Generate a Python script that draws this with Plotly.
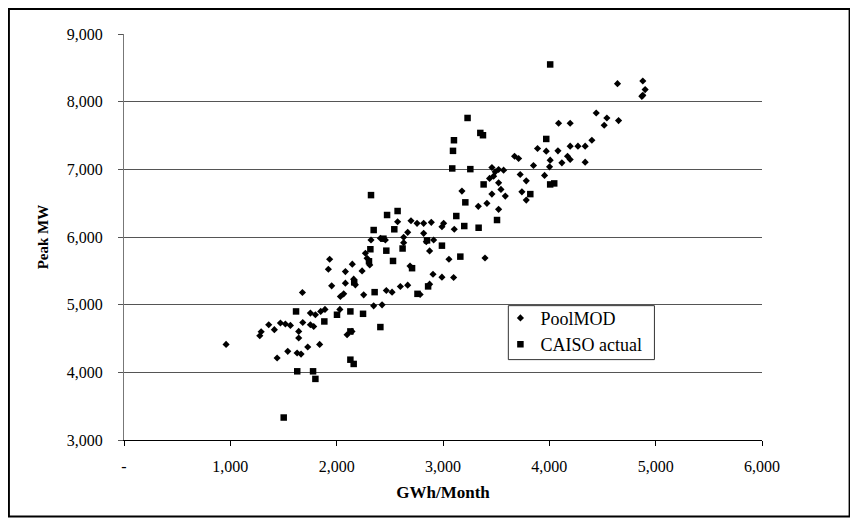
import plotly.graph_objects as go

# PoolMOD (simulated) monthly energy vs. peak
pool_gwh = [960, 1277, 1290, 1361, 1414, 1440, 1471, 1518, 1540, 1565, 1628, 1665, 1643, 1643,
            1678, 1681, 1728, 1753, 1784, 1753, 1800, 1840, 1850, 1890, 1922, 1934, 1953, 2030,
            2035, 2066, 2082, 2082, 2098, 2144, 2147, 2160, 2176, 2239, 2254, 2270, 2286, 2311,
            2323, 2348, 2411, 2427, 2458, 2467, 2521, 2573, 2599, 2630, 2630, 2668, 2668, 2690,
            2699, 2756, 2785, 2818, 2818, 2843, 2874, 2874, 2890, 2906, 2912, 2990, 2990, 3006,
            3056, 3100, 3106, 3178, 3332, 3395, 3413, 3438, 3460, 3476, 3491, 3523, 3570, 3523,
            3545, 3460, 3586, 3523, 3673, 3711, 3726, 3742, 3783, 3783, 3851, 3889, 3955, 3971,
            4002, 4008, 4081, 4087, 4118, 4171, 4196, 4196, 4196, 4269, 4337, 4337, 4400, 4441,
            4516, 4541, 4641, 4651, 4879, 4901, 4879, 4870]
pool_mw = [4413, 4540, 4600, 4703, 4630, 4212, 4729, 4714, 4310, 4693, 4286, 4270, 4507, 4605,
           5180, 4737, 4375, 4703, 4678, 4876, 4851, 4413, 4900, 4930, 5524, 5671, 5278, 4930,
           5121, 5160, 5489, 5318, 4556, 4605, 5598, 5377, 5293, 5499, 5145, 5760, 5686, 5588,
           5956, 4983, 5981, 4997, 5956, 5209, 5185, 6226, 5268, 5996, 5916, 6069, 5288, 5570,
           6240, 6202, 5150, 6202, 6054, 5931, 5794, 5303, 6217, 5450, 5956, 6152, 5406, 6202,
           5671, 5401, 6114, 6678, 6453, 5690, 6497, 6866, 7027, 6899, 6963, 6998, 6988, 6801,
           6703, 6634, 6605, 6409, 7194, 7160, 6924, 6668, 6830, 6546, 7057, 7308, 6910, 7268,
           7037, 7135, 7273, 7681, 7096, 7194, 7145, 7681, 7342, 7342, 7342, 7106, 7430, 7833,
           7651, 7759, 8266, 7721, 8305, 8178, 8094, 8079]

# CAISO actual monthly energy vs. peak
caiso_gwh = [1502, 1618, 1629, 1778, 1800, 1884, 2003, 2129, 2129, 2129, 2160, 2165, 2248,
             2304, 2317, 2323, 2348, 2357, 2411, 2440, 2467, 2474, 2530, 2542, 2573, 2620,
             2709, 2760, 2850, 2860, 2990, 3087, 3094, 3103, 3125, 3163, 3200, 3210, 3231,
             3257, 3335, 3351, 3376, 3382, 3508, 3821, 3971, 4008, 4008, 4046]
caiso_mw = [3332, 4900, 4015, 4015, 3903, 4752, 4851, 4900, 4605, 4187, 4124, 5330, 4865,
            5641, 5819, 6619, 6103, 5185, 4669, 5975, 5798, 6325, 5646, 6114, 6384, 5830,
            5539, 5160, 5950, 5270, 5872, 7013, 7273, 7430, 6310, 5710, 6162, 6512, 7759,
            7003, 6137, 7538, 7504, 6777, 6251, 6634, 7449, 8550, 6777, 6792]

x_ticks = [0, 1000, 2000, 3000, 4000, 5000, 6000]
x_tick_text = ["-", "1,000", "2,000", "3,000", "4,000", "5,000", "6,000"]
y_ticks = [3000, 4000, 5000, 6000, 7000, 8000, 9000]

SERIF = "Liberation Serif"

fig = go.Figure()
fig.add_trace(go.Scatter(
    x=pool_gwh, y=pool_mw, mode="markers", name="PoolMOD",
    marker=dict(symbol="diamond", size=5.5, color="black"),
))
fig.add_trace(go.Scatter(
    x=caiso_gwh, y=caiso_mw, mode="markers", name="CAISO actual",
    marker=dict(symbol="square", size=6.5, color="black"),
))

fig.update_layout(
    width=850, height=512,
    margin=dict(l=116, r=96, t=26, b=80),
    paper_bgcolor="white", plot_bgcolor="white",
    font=dict(family=SERIF, size=16, color="black"),
    showlegend=True,
    legend=dict(
        x=0.59, y=0.3456, xanchor="left", yanchor="top",
        bgcolor="rgba(0,0,0,0)", borderwidth=0,
        font=dict(family=SERIF, size=18, color="black"),
        itemwidth=30, tracegroupgap=0,
    ),
    xaxis=dict(
        range=[0, 6000], tickvals=x_ticks, ticktext=x_tick_text,
        showgrid=False, zeroline=False,
        showline=True, linecolor="black", linewidth=1,
        ticks="outside", ticklen=5, tickcolor="black",
        ticklabelstandoff=7,
        title=dict(text="<b>GWh/Month</b>", font=dict(family=SERIF, size=17), standoff=11),
    ),
    yaxis=dict(
        range=[3000, 9000], tickvals=y_ticks, tickformat=",",
        showgrid=True, gridcolor="#555", gridwidth=1,
        zeroline=False,
        showline=True, linecolor="#777", linewidth=1,
        ticks="outside", ticklen=5, tickcolor="#555",
        ticklabelstandoff=12,
        title=dict(text="<b>Peak MW</b>", font=dict(family=SERIF, size=15), standoff=14),
    ),
    shapes=[
        dict(type="rect", xref="paper", yref="paper",
             x0=-0.1804, x1=1.1373, y0=-0.1882, y1=1.0615,
             line=dict(color="black", width=2), fillcolor="rgba(0,0,0,0)", layer="below"),
        dict(type="rect", xref="paper", yref="paper",
             x0=0.6024, x1=0.8314, y0=0.198, y1=0.3309,
             line=dict(color="#333", width=1), fillcolor="white", layer="above"),
    ],
)

fig.write_html("out.html")
